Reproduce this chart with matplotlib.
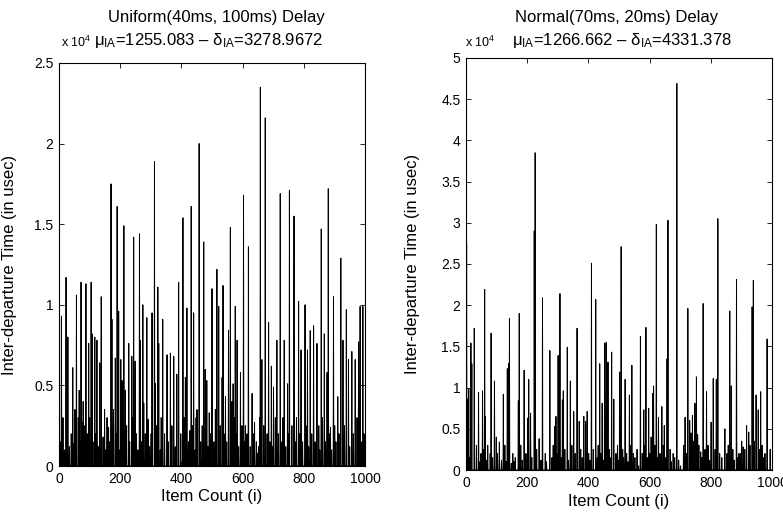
import numpy as np
import matplotlib
matplotlib.use("Agg")
import matplotlib.pyplot as plt

plt.rcParams['font.family'] = ['Liberation Sans', 'DejaVu Sans']
plt.rcParams['mathtext.fontset'] = 'custom'
plt.rcParams['mathtext.rm'] = 'Liberation Sans'
plt.rcParams['mathtext.it'] = 'Liberation Sans:italic'

n_items = 1000

# --- Uniform(40ms, 100ms): inter-departure times (x 1e4 usec)
uni_idx = [22, 56, 71, 87, 104, 137, 169, 189, 211, 243, 262, 273, 311, 322, 390, 404, 431, 457,
           472, 499, 515, 535, 559, 602, 618, 657, 673, 722, 752, 767, 782, 803, 856, 879, 896, 920, 983,
           7, 28, 39, 44, 65, 74, 96, 107, 116, 123, 132, 148, 161, 172, 183, 194, 205, 216, 227,
           237, 248, 265, 276, 290, 303, 314, 325, 338, 352, 363, 374, 384, 417, 427, 439, 450, 477, 490,
           510, 521, 532, 543, 553, 568, 575, 581, 592, 608, 630, 638, 651, 662, 684, 693, 700, 711,
           735, 746, 790, 811, 820, 831, 842, 866, 875, 886, 910, 927, 938, 945, 956, 967, 978, 986, 992,
           3, 12, 17, 33, 48, 51, 62, 68, 78, 81, 91, 99, 110, 119, 127, 143, 152, 156, 165, 177, 186,
           198, 201, 208, 220, 230, 240, 252, 257, 269, 281, 286, 295, 300, 318, 330, 333, 344, 356, 368,
           379, 397, 408, 412, 422, 435, 444, 447, 462, 467, 482, 486, 494, 505, 513, 526, 538, 547, 564,
           571, 578, 586, 597, 605, 613, 624, 634, 644, 647, 655, 668, 679, 688, 697, 706, 716, 727, 731,
           740, 750, 760, 771, 775, 786, 795, 806, 815, 825, 836, 848, 851, 860, 870, 882, 890, 900, 904,
           914, 932, 949, 961, 973, 989, 996]
uni_val = [1.17, 1.06, 1.14, 1.13, 1.14, 1.05, 1.75, 1.61, 1.49, 1.42, 1.44, 1.00, 1.89, 1.11, 1.14, 1.54, 1.61, 2.00,
           1.39, 1.10, 1.22, 1.12, 1.48, 1.68, 1.36, 2.35, 2.16, 1.69, 1.71, 1.55, 1.02, 1.00, 1.47, 1.72, 1.05, 1.29, 0.99,
           0.93, 0.80, 0.20, 0.61, 0.47, 0.27, 0.76, 0.82, 0.80, 0.78, 0.64, 0.35, 0.24, 0.91, 0.67, 0.96, 0.53, 0.47, 0.76,
           0.68, 0.65, 0.78, 0.39, 0.29, 0.95, 0.51, 0.76, 0.91, 0.69, 0.70, 0.68, 0.57, 0.98, 0.22, 0.95, 0.35, 0.60, 0.33,
           0.35, 0.99, 0.55, 0.43, 0.84, 0.51, 0.99, 0.78, 0.58, 0.25, 0.45, 0.27, 0.12, 0.66, 0.89, 0.62, 0.49, 0.78,
           0.78, 0.51, 0.72, 0.72, 0.84, 0.87, 0.76, 0.82, 0.58, 0.24, 0.43, 0.78, 0.97, 0.66, 0.71, 0.66, 0.77, 0.13, 0.99,
           0.15, 0.30, 0.10, 0.12, 0.14, 0.35, 0.30, 0.15, 0.40, 0.25, 0.20, 0.30, 0.15, 0.20, 0.12, 0.18, 0.10, 0.30, 0.15, 0.35, 0.20,
           0.10, 0.66, 0.20, 0.25, 0.15, 0.30, 0.20, 0.10, 0.15, 0.20, 0.92, 0.12, 0.20, 0.25, 0.10, 0.30, 0.20, 0.15, 0.25,
           0.12, 0.20, 0.30, 0.55, 0.15, 0.25, 0.10, 0.30, 0.15, 0.25, 0.53, 0.12, 0.20, 0.15, 0.10, 0.25, 0.20, 0.15, 0.40,
           0.30, 0.20, 0.12, 0.25, 0.15, 0.20, 0.12, 0.20, 0.15, 0.08, 0.30, 0.25, 0.20, 0.15, 0.12, 0.30, 0.20, 0.15, 0.30,
           0.12, 0.20, 0.25, 0.15, 0.30, 0.20, 0.15, 0.25, 0.12, 0.20, 0.15, 0.25, 0.10, 0.30, 0.15, 0.20, 0.10, 0.25, 0.15,
           0.20, 0.25, 0.12, 0.20, 0.30, 0.15, 0.20]

# --- Normal(70ms, 20ms)
nor_idx = [1, 4, 8, 15, 18, 26, 40, 48, 53, 60, 62, 78, 81, 92, 108, 121, 134, 138, 141, 156, 170, 173, 189,
           201, 204, 210, 222, 225, 238, 249, 273, 289, 293, 300, 306, 314, 317, 330, 340, 351, 362, 369, 384,
           390, 395, 409, 423, 436, 444, 452, 457, 463, 475, 482, 501, 506, 519, 533, 541, 569, 580, 587, 596,
           609, 612, 621, 628, 639, 647, 656, 659, 688, 715, 724, 730, 734, 739, 747, 752, 756, 766, 774, 785,
           800, 807, 817, 822, 845, 861, 866, 883, 891, 905, 916, 923, 934, 938, 947, 954, 962, 983,
           11, 33, 45, 57, 66, 70, 86, 98, 102, 115, 126, 130, 147, 152, 160, 178, 183, 195, 214, 230, 244,
           258, 262, 280, 284, 297, 310, 322, 334, 345, 356, 374, 379, 400, 404, 415, 428, 431, 440, 448,
           467, 470, 489, 494, 497, 511, 514, 524, 528, 537, 546, 551, 558, 563, 575, 584, 591, 600, 604,
           617, 625, 633, 644, 652, 666, 670, 676, 681, 694, 700, 710, 719, 743, 760, 770, 780, 790, 795,
           813, 828, 835, 852, 856, 871, 875, 887, 896, 900, 910, 927, 941, 958, 967, 972, 976, 993]
nor_val = [2.75, 0.86, 0.98, 1.54, 1.29, 1.72, 0.94, 0.20, 0.96, 2.19, 0.65, 0.20, 1.66, 1.08, 0.34, 0.92, 1.23, 1.29, 1.84, 0.10, 0.84, 1.90, 1.21,
           0.63, 1.10, 0.69, 2.90, 3.85, 0.38, 2.09, 1.45, 0.53, 0.65, 1.39, 2.14, 0.85, 0.96, 1.49, 1.08, 0.71, 1.72, 0.59, 0.65,
           0.59, 0.71, 2.51, 2.07, 1.29, 0.81, 1.54, 1.55, 1.31, 1.43, 0.86, 1.19, 2.71, 1.10, 0.91, 1.27, 1.62, 0.73, 1.73, 0.75,
           0.93, 1.02, 2.98, 0.64, 0.77, 0.54, 1.35, 3.03, 4.69, 0.64, 1.96, 0.60, 0.45, 0.66, 0.81, 1.13, 0.43, 0.22, 2.02, 0.95,
           0.58, 1.11, 1.10, 3.05, 0.50, 1.93, 1.02, 2.31, 0.20, 0.28, 0.54, 0.46, 1.98, 2.30, 0.91, 0.73, 0.95, 1.59,
           0.15, 0.30, 0.10, 0.25, 0.12, 0.30, 0.15, 0.40, 0.20, 0.12, 0.30, 0.10, 0.08, 0.20, 0.15, 0.30, 0.12, 0.20, 0.15, 0.25, 0.12,
           0.20, 0.10, 0.15, 0.30, 0.20, 0.15, 0.25, 0.12, 0.30, 0.20, 0.25, 0.15, 0.20, 0.12, 0.25, 0.15, 0.30, 0.20, 0.12,
           0.25, 0.15, 0.20, 0.30, 0.12, 0.25, 0.15, 0.20, 0.10, 0.30, 0.20, 0.15, 0.25, 0.05, 0.20, 0.30, 0.15, 0.20, 0.40,
           0.30, 0.15, 0.20, 0.30, 0.15, 0.25, 0.10, 0.20, 0.15, 0.12, 0.05, 0.30, 0.20, 0.35, 0.30, 0.15, 0.25, 0.30, 0.12,
           0.25, 0.20, 0.15, 0.20, 0.30, 0.25, 0.12, 0.15, 0.20, 0.35, 0.25, 0.30, 0.35, 0.25, 0.30, 0.15, 0.20, 0.25]

panels = [
    dict(idx=uni_idx, val=uni_val, ymax=2.5, title="Uniform(40ms, 100ms) Delay",
         stats="μ$_{\\rm IA}$=1255.083 – δ$_{\\rm IA}$=3278.9672",
         ylabels=["0", "0.5", "1", "1.5", "2", "2.5"],
         rect=[59 / 783, 1 - 466 / 516, 306 / 783, 403 / 516], t1x=216, t2x=208, ylx=-0.137, ex=61),
    dict(idx=nor_idx, val=nor_val, ymax=5, title="Normal(70ms, 20ms) Delay",
         stats="μ$_{\\rm IA}$=1266.662 – δ$_{\\rm IA}$=4331.378",
         ylabels=["0", "0.5", "1", "1.5", "2", "2.5", "3", "3.5", "4", "4.5", "5"],
         rect=[466 / 783, 1 - 470 / 516, 306 / 783, 412 / 516], t1x=617, t2x=622, ylx=-0.150, ex=465),
]

fig = plt.figure(figsize=(7.83, 5.16), dpi=100)
for p in panels:
    y = np.zeros(n_items)
    y[np.array(p['idx'])] = np.array(p['val']) * 1e4
    ax = fig.add_axes(p['rect'])
    ax.plot(np.arange(1, n_items + 1), y, color='black', lw=0.7)
    ax.set_xlim(0, 1000)
    ax.set_ylim(0, p['ymax'] * 1e4)
    ax.set_xticks(range(0, 1001, 200))
    ax.set_yticks(np.arange(len(p['ylabels'])) * 5000)
    ax.set_yticklabels(p['ylabels'])
    ax.tick_params(direction='in', top=True, right=True, length=3.5, width=0.6, labelsize=10, pad=4)
    for s in ax.spines.values():
        s.set_linewidth(0.8)
    ax.set_xlabel("Item Count (i)", fontsize=12)
    ax.xaxis.set_label_coords(0.5, -0.058)
    ax.set_ylabel("Inter-departure Time (in usec)", fontsize=12)
    ax.yaxis.set_label_coords(p['ylx'], 0.5)
    # MATLAB-style exponent label above the y axis
    fig.text(p['ex'] / 783, 1 - 47 / 516, "x 10$^4$", fontsize=9, va='baseline', ha='left')
    fig.text(p['t1x'] / 783, 1 - 22 / 516, p['title'], fontsize=12, ha='center', va='baseline')
    fig.text(p['t2x'] / 783, 1 - 45 / 516, p['stats'], fontsize=12, ha='center', va='baseline')

fig.savefig("out.png", dpi=100)
